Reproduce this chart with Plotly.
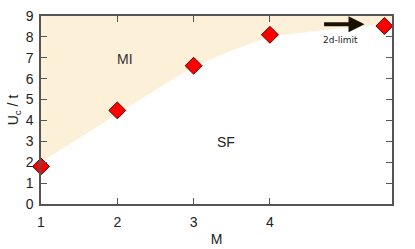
import plotly.graph_objects as go

# data
M_points = [1, 2, 3, 4, 5.5]
Uc_points = [1.80, 4.48, 6.62, 8.10, 8.52]

boundary_M = [1, 2, 3, 4, 5.6]
boundary_U = [2.0, 4.3, 6.55, 7.98, 8.75]

x_ticks = [1, 2, 3, 4]
y_ticks = [0, 1, 2, 3, 4, 5, 6, 7, 8, 9]
x_range = [1, 5.6]
y_range = [0, 9]

arrow_start = (4.69, 8.6)
arrow_end = (5.24, 8.6)
arrow_label = "2d-limit"
label_pos = (4.93, 7.87)
MI_pos = (2.1, 6.95)
SF_pos = (3.42, 2.95)

fig = go.Figure()

# shaded MI region
poly_x = boundary_M + [x_range[1], x_range[0]]
poly_y = boundary_U + [y_range[1], y_range[1]]
fig.add_trace(go.Scatter(
    x=poly_x, y=poly_y, fill="toself", mode="lines",
    line=dict(width=0, shape="spline", smoothing=0.6), fillcolor="#fdf0d9",
    hoverinfo="skip", showlegend=False))

fig.add_trace(go.Scatter(
    x=M_points, y=Uc_points, mode="markers",
    marker=dict(symbol="diamond", size=13, color="#ff0000",
                line=dict(color="#5a0000", width=1)),
    showlegend=False, cliponaxis=False))

fig.add_annotation(x=arrow_end[0], y=arrow_end[1], ax=arrow_start[0], ay=arrow_start[1],
                   xref="x", yref="y", axref="x", ayref="y", text="",
                   showarrow=True, arrowhead=2, arrowsize=0.8, arrowwidth=4,
                   arrowcolor="#1a1200")
fig.add_annotation(x=label_pos[0], y=label_pos[1], text=arrow_label, showarrow=False,
                   font=dict(family="DejaVu Sans", size=9, color="#222"))
fig.add_annotation(x=MI_pos[0], y=MI_pos[1], text="MI", showarrow=False,
                   font=dict(family="Liberation Sans", size=14, color="#333"))
fig.add_annotation(x=SF_pos[0], y=SF_pos[1], text="SF", showarrow=False,
                   font=dict(family="Liberation Sans", size=14, color="#222"))

axis_common = dict(showline=True, linecolor="#555", linewidth=1.5, mirror="ticks",
                   ticks="inside", ticklen=6, tickwidth=1, tickcolor="#555",
                   showgrid=False, zeroline=False, automargin=False,
                   tickfont=dict(family="Liberation Sans", size=14, color="#222"))

fig.update_xaxes(range=x_range, tickvals=x_ticks, ticklabelstandoff=4,
                 title=dict(text="M", standoff=6,
                 font=dict(family="Liberation Sans", size=14, color="#222")), **axis_common)
fig.update_yaxes(range=y_range, tickvals=y_ticks, ticklabelstandoff=3,
                 title=dict(text="U<sub>c</sub> / t", standoff=4,
                 font=dict(family="Liberation Sans", size=14, color="#222")), **axis_common)

fig.update_layout(width=415, height=249, margin=dict(l=41, r=23, t=16, b=45),
                  plot_bgcolor="white", paper_bgcolor="white")

fig.write_html("out.html", config={"displayModeBar": False},
               post_script="document.body.style.margin='0';")
